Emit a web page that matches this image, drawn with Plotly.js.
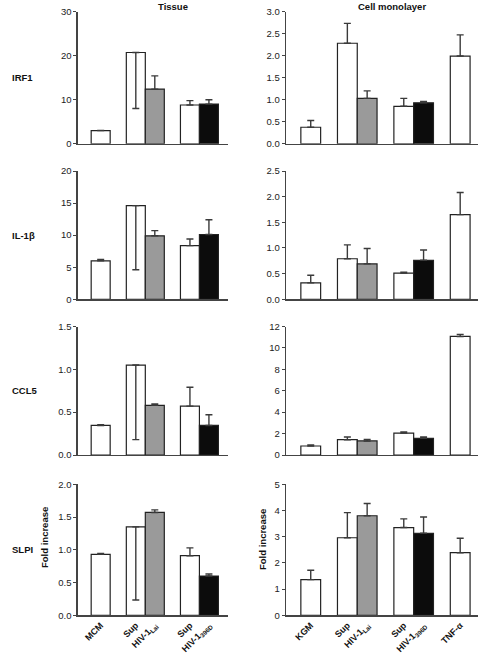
<!DOCTYPE html>
<html>
<head>
<meta charset="utf-8">
<script src="https://cdn.plot.ly/plotly-3.0.1.min.js"></script>
<style>html,body{margin:0;padding:0;background:#fff}#chart{width:482px;height:656px}</style>
</head>
<body>
<div id="chart"></div>
<script>
// ---------- data ----------
const genes = ['IRF1', 'IL-1β', 'CCL5', 'SLPI'];

const tissueLabels = ['MCM', 'Sup', 'HIV-1<sub>Lai</sub>', 'Sup', 'HIV-1<sub>396D</sub>'];
const tissueGroup  = [0, 1, 1, 2, 2];
const tissueKind   = ['ctrl', 'sup', 'lai', 'sup', 'd396'];
const tissueErrDown = [false, true, false, false, false];

const monoLabels = ['KGM', 'Sup', 'HIV-1<sub>Lai</sub>', 'Sup', 'HIV-1<sub>396D</sub>', 'TNF-α'];
const monoGroup  = [0, 1, 1, 2, 2, 3];
const monoKind   = ['ctrl', 'sup', 'lai', 'sup', 'd396', 'tnf'];

const irf1Tissue    = [3.0, 20.7, 12.4, 8.8, 9.0];
const irf1TissueErr = [0.0, 12.7, 3.0, 1.0, 1.0];
const irf1Mono      = [0.375, 2.28, 1.03, 0.85, 0.93, 1.99];
const irf1MonoErr   = [0.155, 0.45, 0.17, 0.18, 0.03, 0.48];

const il1bTissue    = [6.0, 14.6, 9.9, 8.36, 10.1];
const il1bTissueErr = [0.2, 10.0, 0.8, 1.04, 2.3];
const il1bMono      = [0.32, 0.79, 0.69, 0.51, 0.76, 1.65];
const il1bMonoErr   = [0.15, 0.27, 0.30, 0.02, 0.20, 0.43];

const ccl5Tissue    = [0.345, 1.05, 0.58, 0.57, 0.345];
const ccl5TissueErr = [0.01, 0.87, 0.015, 0.22, 0.125];
const ccl5Mono      = [0.84, 1.43, 1.31, 2.05, 1.56, 11.07];
const ccl5MonoErr   = [0.09, 0.25, 0.15, 0.10, 0.12, 0.19];

const slpiTissue    = [0.93, 1.35, 1.57, 0.91, 0.60];
const slpiTissueErr = [0.013, 1.116, 0.04, 0.12, 0.03];
const slpiMono      = [1.36, 2.96, 3.80, 3.35, 3.13, 2.39];
const slpiMonoErr   = [0.36, 0.96, 0.47, 0.33, 0.62, 0.55];

const tissueMax  = [30, 20, 1.5, 2.0];
const tissueStep = [10, 5, 0.5, 0.5];
const monoMax    = [3.0, 2.5, 12, 5];
const monoStep   = [0.5, 0.5, 2, 1];

// ---------- layout helpers ----------
const W = 482, H = 656;
const FONT = 'Liberation Sans, Arial, Helvetica, sans-serif';
const kindColor = {ctrl: '#ffffff', sup: '#ffffff', tnf: '#ffffff', lai: '#9a9a9a', d396: '#0c0c0c'};
const GAP = 1.85;
function positions(groups) {
  const x = [0];
  for (let i = 1; i < groups.length; i++) x.push(x[i - 1] + (groups[i] === groups[i - 1] ? 1 : GAP));
  return x;
}
const tissueX = positions(tissueGroup);
const monoX = positions(monoGroup);

const rowTop = [11.5, 171, 326.5, 484.3];
const rowBot = [143.8, 299.3, 455, 615.3];
const colPx = [[77.7, 228.3], [286, 478]];
const colRange = [[-1.21, 6.72], [-1.25, 8.45]];

const tissueData = [[irf1Tissue, irf1TissueErr], [il1bTissue, il1bTissueErr], [ccl5Tissue, ccl5TissueErr], [slpiTissue, slpiTissueErr]];
const monoData = [[irf1Mono, irf1MonoErr], [il1bMono, il1bMonoErr], [ccl5Mono, ccl5MonoErr], [slpiMono, slpiMonoErr]];

const traces = [];
const layout = {
  width: W, height: H,
  margin: {l: 0, r: 0, t: 0, b: 0},
  paper_bgcolor: '#fff', plot_bgcolor: 'rgba(0,0,0,0)',
  showlegend: false,
  font: {family: FONT, size: 9.5, color: '#222'},
  annotations: []
};

let k = 0;
for (let r = 0; r < 4; r++) {
  for (let c = 0; c < 2; c++) {
    k++;
    const xa = 'x' + (k === 1 ? '' : k), ya = 'y' + (k === 1 ? '' : k);
    const isT = c === 0;
    const [vals, errs] = isT ? tissueData[r] : monoData[r];
    const xs = isT ? tissueX : monoX;
    const kinds = isT ? tissueKind : monoKind;
    const up = errs.map((e, i) => (isT && tissueErrDown[i]) ? 0 : e);
    const dn = errs.map((e, i) => (isT && tissueErrDown[i]) ? e : 0);
    traces.push({
      type: 'bar', x: xs, y: vals, width: 1, xaxis: xa, yaxis: ya,
      marker: {color: kinds.map(t => kindColor[t]), line: {color: '#222', width: 1.2}},
      error_y: {type: 'data', symmetric: false, array: up, arrayminus: dn, color: '#3a3a3a', thickness: 1.4, width: 3.5},
      hoverinfo: 'skip'
    });
    const labels = isT ? tissueLabels : monoLabels;
    layout['xaxis' + (k === 1 ? '' : k)] = {
      domain: [colPx[c][0] / W, colPx[c][1] / W],
      range: colRange[c], anchor: ya,
      showline: true, linecolor: '#444', linewidth: 1.3,
      showgrid: false, zeroline: false, ticks: '',
      tickmode: 'array', tickvals: xs, ticktext: labels,
      showticklabels: r === 3, tickangle: -45,
      tickfont: {family: FONT, size: 9, color: '#111', weight: 'bold'},
      fixedrange: true
    };
    const max = isT ? tissueMax[r] : monoMax[r];
    const step = isT ? tissueStep[r] : monoStep[r];
    layout['yaxis' + (k === 1 ? '' : k)] = {
      domain: [1 - rowBot[r] / H, 1 - rowTop[r] / H],
      range: [0, max], anchor: xa,
      showline: true, linecolor: '#444', linewidth: 1.3,
      showgrid: false, zeroline: false,
      ticks: 'outside', ticklen: 3, tickwidth: 1, tickcolor: '#444',
      tick0: 0, dtick: step, tickformat: step < 1 ? '.1f' : 'd',
      tickfont: {family: FONT, size: 9.5, color: '#222'},
      fixedrange: true
    };
  }
  layout.annotations.push({
    text: genes[r], xref: 'paper', yref: 'paper', x: 10 / W, xanchor: 'left',
    y: 1 - ((rowTop[r] + rowBot[r]) / 2) / H, yanchor: 'middle', showarrow: false,
    font: {family: FONT, size: 9.5, color: '#111', weight: 'bold'}
  });
}
const ann = (text, xpx, ypx, extra) => layout.annotations.push(Object.assign({
  text: text, xref: 'paper', yref: 'paper', x: xpx / W, y: 1 - ypx / H,
  xanchor: 'center', yanchor: 'middle', showarrow: false,
  font: {family: FONT, size: 9.5, color: '#111', weight: 'bold'}
}, extra || {}));
ann('Tissue', 173, 6.5);
ann('Cell monolayer', 392, 7);
ann('Fold increase', 44, 538, {textangle: -90});
ann('Fold increase', 262, 540, {textangle: -90});

Plotly.newPlot('chart', traces, layout, {staticPlot: true, displayModeBar: false});
</script>
</body>
</html>
